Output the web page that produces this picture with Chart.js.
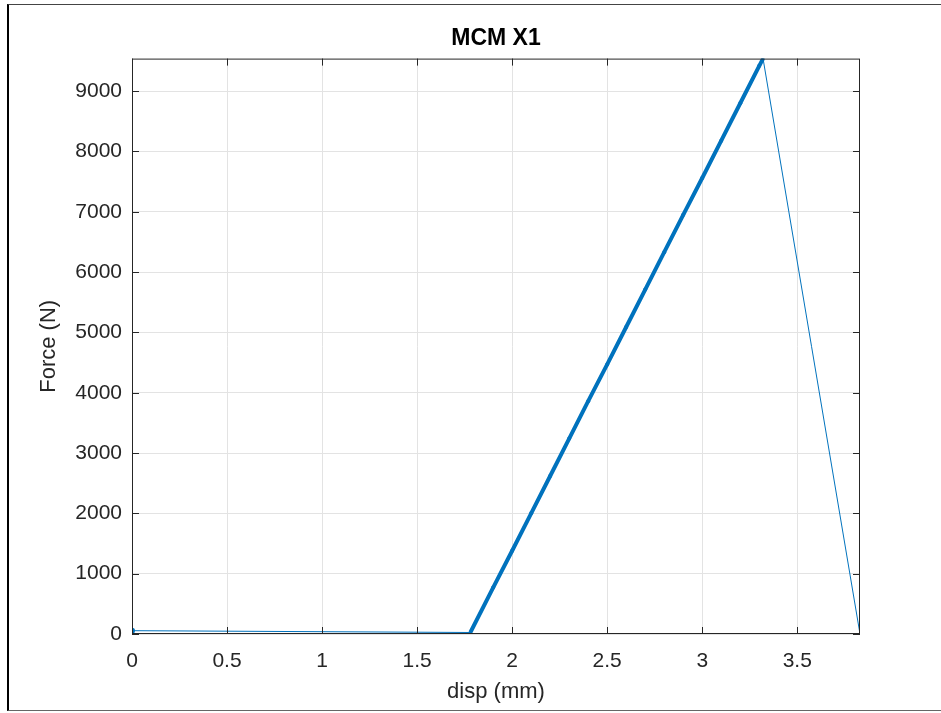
<!DOCTYPE html>
<html lang="en">

<head>
    <meta charset="UTF-8" />
    <script src="https://cdn.jsdelivr.net/npm/chart.js@4.4.1/dist/chart.umd.min.js"></script>
    <style>
        body { margin: 0; background: #fff; }
        #wrap { position: relative; width: 941px; height: 713px; overflow: hidden; }
        #frame {
            position: absolute; left: 7px; top: 4px; width: 960px; height: 705px;
            border-left: 2px solid #000; border-top: 1px solid #444; border-bottom: 1px solid #666;
            pointer-events: none;
        }
    </style>
</head>

<body>
    <div id="wrap">
        <canvas id="chart" width="941" height="713"></canvas>
        <div id="frame"></div>
    </div>
    <script>
        // displacement (mm) / force (N)
        const dispMm = [0, 1.78, 1.9, 2.0, 2.1, 2.2, 2.3, 2.4, 2.5, 2.6, 2.7, 2.8, 2.9, 3.0, 3.1, 3.2, 3.3, 3.32, 3.83];
        const forceN = [55, 25, 770, 1380, 2000, 2620, 3240, 3860, 4470, 5090, 5710, 6330, 6950, 7560, 8180, 8800, 9420, 9540, 0];
        const xTicks = [0, 0.5, 1, 1.5, 2, 2.5, 3, 3.5];
        const xTickLabels = ['0', '0.5', '1', '1.5', '2', '2.5', '3', '3.5'];
        const yTicks = [0, 1000, 2000, 3000, 4000, 5000, 6000, 7000, 8000, 9000];
        const yTickLabels = ['0', '1000', '2000', '3000', '4000', '5000', '6000', '7000', '8000', '9000'];
        const rampStart = 1, rampEnd = 17; // index range of the dense loading part

        const points = dispMm.map((x, i) => ({ x: x, y: forceN[i] }));
        const blue = '#0072BD';
        const axisCol = '#262626';

        // matlab style box with inward ticks
        const boxPlugin = {
            id: 'box',
            afterDraw(chart) {
                const a = chart.chartArea;
                const ctx = chart.ctx;
                const xs = chart.scales.x, ys = chart.scales.y;
                ctx.save();
                ctx.strokeStyle = axisCol;
                ctx.lineWidth = 1;
                ctx.strokeRect(a.left + 0.5, a.top + 0.5, a.right - a.left - 1, a.bottom - a.top - 1);
                ctx.beginPath();
                xTicks.forEach(v => {
                    const px = Math.round(xs.getPixelForValue(v)) + 0.5;
                    ctx.moveTo(px, a.bottom); ctx.lineTo(px, a.bottom - 7);
                    ctx.moveTo(px, a.top); ctx.lineTo(px, a.top + 7);
                });
                yTicks.forEach(v => {
                    const py = Math.round(ys.getPixelForValue(v)) + 0.5;
                    ctx.moveTo(a.left, py); ctx.lineTo(a.left + 7, py);
                    ctx.moveTo(a.right, py); ctx.lineTo(a.right - 7, py);
                });
                ctx.stroke();
                ctx.restore();
            }
        };

        const ctx = document.getElementById('chart').getContext('2d');
        new Chart(ctx, {
            type: 'scatter',
            data: {
                datasets: [{
                    label: 'MCM X1',
                    data: points,
                    showLine: true,
                    borderColor: blue,
                    backgroundColor: blue,
                    borderWidth: 1,
                    pointRadius: c => (c.dataIndex > rampStart && c.dataIndex < rampEnd) ? 2 : (c.dataIndex === 0 ? 3 : 1.5),
                    pointBorderWidth: 0,
                    segment: {
                        borderWidth: s => (s.p0DataIndex >= rampStart && s.p1DataIndex <= rampEnd) ? 4 : 1
                    }
                }]
            },
            options: {
                responsive: false,
                animation: false,
                layout: { padding: { left: 0, right: 81, top: 0, bottom: 0 } },
                plugins: {
                    legend: { display: false },
                    tooltip: { enabled: false },
                    title: {
                        display: true,
                        text: 'MCM X1',
                        fullSize: false,
                        color: '#000',
                        font: { family: 'Liberation Sans, Arial', size: 23, weight: 'bold' },
                        padding: { top: 25, bottom: 6 }
                    }
                },
                scales: {
                    x: {
                        type: 'linear',
                        min: 0,
                        max: 3.83,
                        afterFit: s => { s.height = 79; },
                        afterBuildTicks: s => { s.ticks = xTicks.map(v => ({ value: v })); },
                        grid: { color: '#e3e3e3', drawTicks: false },
                        border: { display: false },
                        ticks: {
                            padding: 15,
                            color: axisCol,
                            maxRotation: 0,
                            font: { family: 'Liberation Sans, Arial', size: 21 },
                            callback: (v) => xTickLabels[xTicks.indexOf(v)]
                        },
                        title: {
                            display: true,
                            text: 'disp (mm)',
                            color: axisCol,
                            font: { family: 'Liberation Sans, Arial', size: 22 },
                            padding: { top: 0, bottom: 8 }
                        }
                    },
                    y: {
                        type: 'linear',
                        min: 0,
                        max: 9540,
                        afterFit: s => { s.width = 132; },
                        afterBuildTicks: s => { s.ticks = yTicks.map(v => ({ value: v })); },
                        grid: { color: '#e3e3e3', drawTicks: false },
                        border: { display: false },
                        ticks: {
                            padding: 10,
                            color: axisCol,
                            font: { family: 'Liberation Sans, Arial', size: 21 },
                            callback: (v) => yTickLabels[yTicks.indexOf(v)]
                        },
                        title: {
                            display: true,
                            text: 'Force (N)',
                            color: axisCol,
                            font: { family: 'Liberation Sans, Arial', size: 22 },
                            padding: { top: 36, bottom: 0 }
                        }
                    }
                }
            },
            plugins: [boxPlugin]
        });
    </script>
</body>

</html>
